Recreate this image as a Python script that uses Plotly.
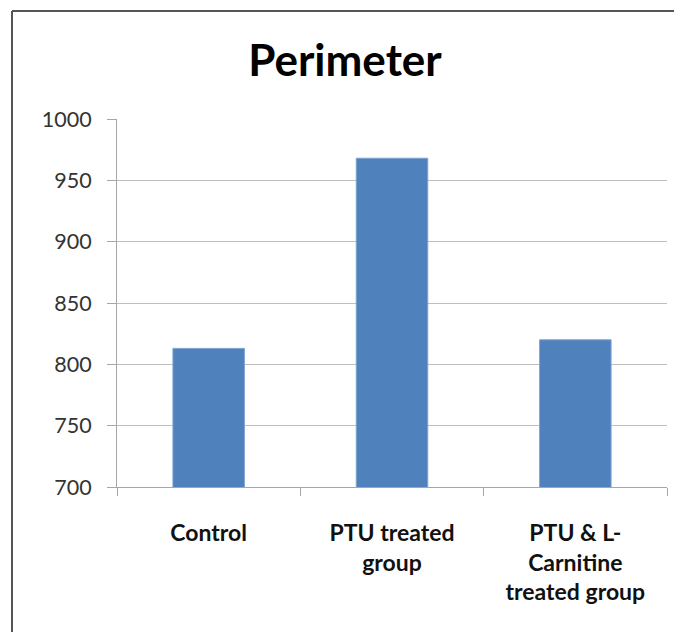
import plotly.graph_objects as go

categories = ["Control", "PTU treated<br>group", "PTU & L-<br>Carnitine<br>treated group"]
values = [813, 968, 820]
y_ticks = [700, 750, 800, 850, 900, 950, 1000]

OFF = 8  # page body margin offset
W, H = 682 - OFF, 632 - OFF
L, R, T, B = 117 - OFF, 15, 119 - OFF, 145
pw, ph = W - L - R, H - T - B

def px_x(p):
    return (p - OFF - L) / pw

def px_y(p):
    return (H - B - (p - OFF)) / ph

fig = go.Figure(go.Bar(
    x=categories, y=values,
    marker=dict(color="#4F81BD", line=dict(color="#7FA3D1", width=1)),
    width=0.39,
))

fig.update_layout(
    width=W, height=H,
    margin=dict(l=L, r=R, t=T, b=B),
    paper_bgcolor="white", plot_bgcolor="white",
    showlegend=False,
    font=dict(family="Lato, 'Open Sans', sans-serif", color="#222"),
    title=dict(text="<b>Perimeter</b>", x=0.5, xanchor="center",
               y=1 - (61 - OFF) / H, yanchor="middle",
               font=dict(size=44, color="#000")),
    xaxis=dict(
        showline=True, linecolor="#A6A6A6", linewidth=1,
        ticks="outside", tickson="boundaries", ticklen=8, tickcolor="#A6A6A6",
        tickfont=dict(size=23, color="#111", family="Lato, sans-serif", weight="bold"),
        ticklabelstandoff=25,
        showgrid=False,
    ),
    yaxis=dict(
        range=[700, 1000], tickvals=y_ticks,
        showline=True, linecolor="#A6A6A6", linewidth=1,
        ticks="outside", ticklen=9, tickcolor="#A6A6A6",
        showgrid=True, gridcolor="#BFBFBF", gridwidth=1,
        tickfont=dict(size=21.5, color="#333"),
        ticklabelstandoff=11,
        zeroline=False,
    ),
    shapes=[
        dict(type="line", xref="paper", yref="paper",
             x0=px_x(12), x1=px_x(720), y0=px_y(11), y1=px_y(11),
             line=dict(color="#555", width=2)),
        dict(type="line", xref="paper", yref="paper",
             x0=px_x(12), x1=px_x(12), y0=px_y(11), y1=px_y(680),
             line=dict(color="#555", width=2)),
    ],
)

fig.write_html("out.html")
